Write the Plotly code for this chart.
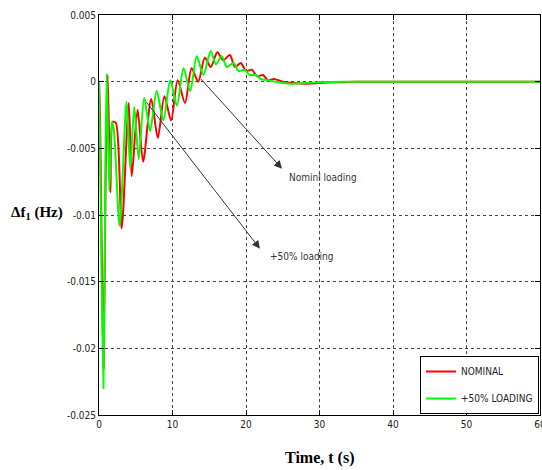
import plotly.graph_objects as go

# Frequency deviation of area 1 after a load step, two loading conditions
t_nominal = [0.0, 0.15, 0.4, 0.62, 0.9, 1.18, 1.55, 1.9, 2.3, 3.08, 4.05, 4.45, 5.25, 6.0,
             7.1, 8.0, 8.9, 9.8, 10.7, 11.7, 12.6, 13.5, 14.4, 15.2, 16.1, 16.9, 17.8,
             18.5, 19.3, 20.0, 20.8, 21.5, 22.3, 23.0, 23.8, 25.0, 26.5, 28.0, 30.0,
             32.0, 35.0, 60.0]
df_nominal = [0.0, -0.003, -0.014, -0.0215, -0.007, 0.0005, -0.0083, -0.0030, -0.0031,
              -0.0110, -0.0016, -0.0071, -0.0021, -0.0060, -0.0013, -0.0042, -0.0011,
              -0.0029, 0.0001, -0.0016, 0.0010, 0.0000, 0.0018, 0.0011, 0.0022, 0.0016,
              0.0020, 0.0011, 0.0014, 0.0008, 0.0009, 0.0004, 0.0005, 0.0001, 0.0002,
              0.0, -0.0001, -0.00015, -0.0001, -0.00005, 0.0, 0.0]

t_loaded = [0.0, 0.1, 0.35, 0.6, 0.85, 1.05, 1.4, 1.75, 2.0, 2.8, 3.75, 4.25, 4.8, 5.4,
            6.15, 6.95, 7.85, 8.75, 9.7, 10.6, 11.5, 12.4, 13.3, 14.2, 15.2, 15.9, 16.7,
            17.4, 18.3, 19.0, 19.8, 20.5, 21.3, 22.0, 23.0, 24.5, 26.0, 28.0, 30.0,
            33.0, 60.0]
df_loaded = [0.0, -0.003, -0.014, -0.0230, -0.008, 0.0006, -0.0082, -0.0030, -0.0035,
             -0.0108, -0.0015, -0.0065, -0.0019, -0.0058, -0.0012, -0.0037, -0.0007,
             -0.0029, 0.0001, -0.0018, 0.0010, -0.0007, 0.0019, 0.0005, 0.0023, 0.0013,
             0.0019, 0.0011, 0.0014, 0.0008, 0.0009, 0.0005, 0.0005, 0.0002, 0.0001,
             -0.00005, -0.00015, -0.0001, -0.00005, 0.0, 0.0]

x_ticks = [0, 10, 20, 30, 40, 50, 60]
y_ticks = [0.005, 0, -0.005, -0.01, -0.015, -0.02, -0.025]
y_ticktext = ["0.005", "0", "-0.005", "-0.01", "-0.015", "-0.02", "-0.025"]

series_names = ["NOMINAL", "+50% LOADING"]

narrow = "Liberation Sans Narrow, Arial Narrow, DejaVu Sans Condensed, Liberation Sans, Arial, sans-serif"
tick_font = dict(family=narrow, size=10, color="#222222")
title_font = dict(family="Liberation Serif, Times New Roman, serif", size=16, color="black")

fig = go.Figure()
fig.add_trace(go.Scatter(x=t_nominal, y=df_nominal, mode="lines", name=series_names[0],
                         legendgroup="a",
                         line=dict(color="rgb(255,0,0)", width=2, shape="spline", smoothing=0.8)))
fig.add_trace(go.Scatter(x=t_loaded, y=df_loaded, mode="lines", name=series_names[1],
                         legendgroup="b",
                         line=dict(color="rgb(0,255,0)", width=2, shape="spline", smoothing=0.8)))

axis_common = dict(showline=True, linecolor="black", linewidth=1, mirror="allticks",
                   ticks="inside", ticklen=5, tickcolor="black",
                   showgrid=True, gridcolor="#444444", gridwidth=1, griddash="dot",
                   zeroline=False, tickfont=tick_font, ticklabeloverflow="allow",
                   automargin=False)

fig.update_xaxes(range=[0, 60], tickvals=x_ticks, **axis_common)
fig.update_yaxes(range=[-0.025, 0.005], tickvals=y_ticks, ticktext=y_ticktext, **axis_common)

arrow_style = dict(showarrow=True, arrowhead=2, arrowsize=1.6, arrowwidth=1,
                   arrowcolor="#333333", xref="x", yref="y", axref="x", ayref="y", text="")
fig.add_annotation(x=24.9, y=-0.00653, ax=13.7, ay=0.0003, **arrow_style)
fig.add_annotation(x=21.9, y=-0.01253, ax=6.3, ay=-0.00143, **arrow_style)

label_font = dict(family=narrow, size=10, color="#333333")
fig.add_annotation(x=25.6, y=-0.00715, text="Nominl loading", showarrow=False,
                   xanchor="left", yanchor="middle", font=label_font)
fig.add_annotation(x=23.0, y=-0.0131, text="+50% loading", showarrow=False,
                   xanchor="left", yanchor="middle", font=label_font)

fig.add_annotation(x=0.501, y=-0.108, xref="paper", yref="paper", showarrow=False,
                   text="<b>Time, t (s)</b>", font=title_font, xanchor="center", yanchor="middle")
fig.add_annotation(x=-0.14, y=0.505, xref="paper", yref="paper", showarrow=False,
                   text="<b>Δf<sub>1</sub> (Hz)</b>", font=dict(title_font, size=15),
                   xanchor="center", yanchor="middle")

fig.update_layout(
    width=542, height=470,
    margin=dict(l=99, r=2, t=15, b=55, autoexpand=False),
    paper_bgcolor="white", plot_bgcolor="white",
    showlegend=True,
    legend=dict(x=0.9977, y=0.0025, xanchor="right", yanchor="bottom",
                bgcolor="white", bordercolor="black", borderwidth=1,
                tracegroupgap=8,
                font=dict(family=narrow, size=10, color="#222222")),
)

fig.write_html("out.html")
